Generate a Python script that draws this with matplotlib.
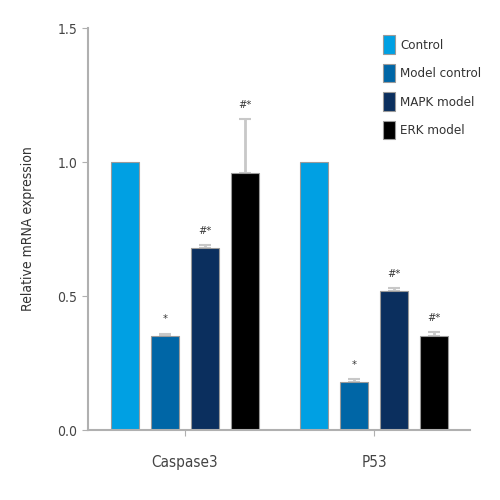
import matplotlib
matplotlib.use("Agg")
import matplotlib.pyplot as plt
import numpy as np

genes = ["Caspase3", "P53"]
groups = ["Control", "Model control", "MAPK model", "ERK model"]
values = {
    "Control": [1.0, 1.0],
    "Model control": [0.35, 0.18],
    "MAPK model": [0.68, 0.52],
    "ERK model": [0.96, 0.35],
}
errors = {
    "Control": [0.0, 0.0],
    "Model control": [0.01, 0.01],
    "MAPK model": [0.01, 0.01],
    "ERK model": [0.20, 0.015],
}
marks = {
    "Control": ["", ""],
    "Model control": ["*", "*"],
    "MAPK model": ["#*", "#*"],
    "ERK model": ["#*", "#*"],
}
colors = ["#00a0e3", "#0066a6", "#0b2f5e", "#000000"]
yticks = [0.0, 0.5, 1.0, 1.5]

plt.rcParams["font.family"] = "DejaVu Sans"
plt.rcParams["font.stretch"] = "condensed"

fig = plt.figure(figsize=(5, 5), dpi=100)
ax = fig.add_axes([0.176, 0.14, 0.764, 0.804])

step = 0.212
width = 0.145
x = np.arange(len(genes))
for i, g in enumerate(groups):
    xs = x + (i - 1.5) * step
    ax.bar(xs, values[g], width=width, color=colors[i], edgecolor="#9a9a9a",
           linewidth=0.8, label=g, zorder=2)
    for j in range(len(genes)):
        v = values[g][j]
        e = errors[g][j]
        if e > 0:
            ax.errorbar(xs[j], v, yerr=[[0], [e]], color="#c8c8c8", capsize=4,
                        elinewidth=2, capthick=1.5, zorder=1)
        if marks[g][j]:
            ax.text(xs[j], v + e + 0.035, marks[g][j], ha="center", va="bottom",
                    fontsize=8, color="#333333")

ax.set_xlim(-0.513, 1.508)
ax.set_ylim(0, 1.5)
ax.tick_params(color="#b0b0b0", labelcolor="#444444", length=4)
ax.tick_params(axis="x", pad=14)
ax.set_yticks(yticks)
ax.set_yticklabels([f"{t:.1f}" for t in yticks], fontsize=10)
ax.set_xticks(x)
ax.set_xticklabels(genes, fontsize=11)
ax.set_ylabel("Relative mRNA expression", fontsize=10, color="#333333", labelpad=16)
for s in ["top", "right"]:
    ax.spines[s].set_visible(False)
for s in ["left", "bottom"]:
    ax.spines[s].set_color("#b0b0b0")
    ax.spines[s].set_linewidth(1.5)

leg = ax.legend(loc="upper right", bbox_to_anchor=(1.06, 1.012), frameon=False,
                fontsize=9.5, handlelength=0.9, handleheight=1.8,
                labelspacing=0.75, handletextpad=0.4)
for t in leg.get_texts():
    t.set_color("#333333")

fig.savefig("out.png", dpi=100)
